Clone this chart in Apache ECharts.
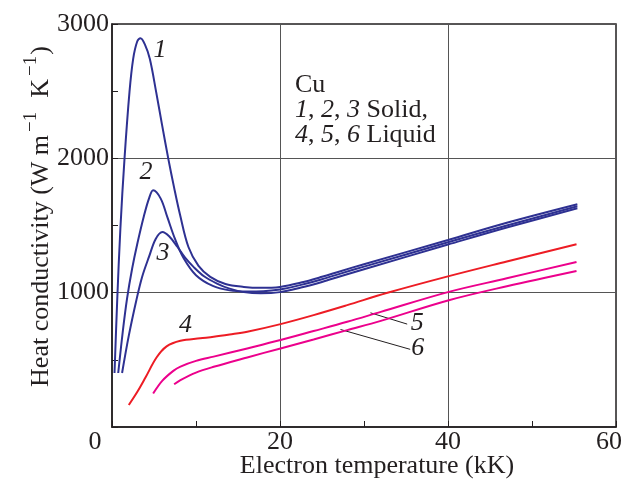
<!DOCTYPE html>
<html>
<head>
<meta charset="utf-8">
<script src="https://cdn.jsdelivr.net/npm/echarts@6/dist/echarts.min.js"></script>
<style>html,body{margin:0;padding:0;background:#fff}#c{width:627px;height:487px}</style>
</head>
<body>
<div id="c"></div>
<script>
// Data (x: electron temperature in kK, y: heat conductivity in W m^-1 K^-1)
const curve1 = [[0.3,402],[0.62,944],[1.0,1480],[1.49,1998],[2.08,2493],[2.52,2741],[3.0,2870],[3.39,2894],[3.9,2850],[4.5,2741],[5.26,2493],[5.97,2245],[6.7,1998],[7.4,1780],[8.1,1580],[9.1,1340],[10.3,1200],[11.7,1118],[13.5,1065],[15.7,1043],[17.7,1036],[20,1043],[22.5,1075],[25,1118],[27.2,1160],[30,1212],[40,1392],[47,1520],[55.4,1658]];
const curve2 = [[0.74,402],[1.3,720],[1.8,960],[2.4,1180],[3.0,1360],[3.8,1570],[4.4,1700],[4.9,1762],[5.8,1700],[6.6,1560],[7.5,1400],[8.5,1260],[10,1130],[12,1050],[14,1017],[16,1009],[18,1011],[20,1024],[22.5,1058],[25,1100],[27.2,1142],[30,1194],[40,1375],[47,1500],[55.4,1643]];
const curve3 = [[1.2,402],[2.0,680],[2.9,944],[3.6,1120],[4.4,1266],[5.2,1400],[6.0,1452],[6.8,1420],[7.8,1340],[8.7,1260],[9.7,1192],[11,1120],[12.5,1068],[14,1030],[15.7,1004],[17.7,995],[20,1004],[22.5,1038],[25,1080],[27.2,1122],[30,1174],[40,1358],[47,1485],[55.4,1628]];
const curve4 = [[2.0,164],[3.0,260],[4.0,370],[5.3,517],[6.5,600],[8.15,642],[10.5,660],[12.1,671],[14,688],[16.1,709],[20.06,766],[24,833],[28,907],[32.8,999],[40.1,1123],[47,1232],[55.3,1361]];
const curve5 = [[4.9,249],[6.0,345],[7.3,418],[8.15,450],[10,492],[12.1,524],[16.1,585],[20.06,647],[24,714],[28,783],[32,857],[40.1,1006],[47,1107],[55.3,1229]];
const curve6 = [[7.4,318],[8.15,349],[10,405],[12.1,448],[16.1,518],[20.06,585],[24,652],[28,721],[32,790],[40.1,944],[47,1048],[55.3,1162]];
const leader5 = [[30.77,850],[35.14,766]];
const leader6 = [[27.2,726],[35.5,578]];
const curveLabels = [[5.7,2806,'1'],[4.05,1896,'2'],[6.07,1291,'3'],[8.75,758,'4'],[36.33,771,'5'],[36.4,585,'6']];
const xTickValues = [0,20,40,60];
const yTickValues = [1000,2000,3000];

const FONT = '"Liberation Serif","Times New Roman",serif';
const chart = echarts.init(document.getElementById('c'), null, {renderer:'canvas'});
const line = (data, color) => ({type:'line', data, smooth:0.35, showSymbol:false, symbol:'none', silent:true,
  lineStyle:{color, width:2}, z:3});
const leader = (data) => ({type:'line', data, showSymbol:false, symbol:'none', silent:true, lineStyle:{color:'#231f20', width:1}, z:2});

chart.setOption({
  animation:false,
  grid:{left:112, right:11, top:24, bottom:60, show:true, borderColor:'#231f20', borderWidth:1.5,
    backgroundColor:'transparent', containLabel:false, outerBoundsMode:'none'},
  xAxis:{type:'value', min:0, max:60, interval:20,
    name:'Electron temperature (kK)', nameLocation:'middle', nameGap:26, nameMoveOverlap:false,
    nameTextStyle:{fontFamily:FONT, fontSize:26, color:'#231f20', padding:[0,0,0,26], verticalAlign:'top'},
    axisLine:{show:true, lineStyle:{color:'#231f20', width:1.5}},
    axisTick:{show:true, inside:true, length:6, lineStyle:{color:'#231f20'}},
    minorTick:{show:true, splitNumber:2, length:6, lineStyle:{color:'#231f20', width:1}},
    splitLine:{show:true, lineStyle:{color:'#555', width:1}},
    axisLabel:{fontFamily:FONT, fontSize:26, color:'#231f20', margin:2,
      formatter:v => xTickValues.includes(v) ? (v===0 ? '{z|0}' : (v===60 ? '{r|60}' : String(v))) : '',
      rich:{z:{fontFamily:FONT, fontSize:26, color:'#231f20', padding:[0,34,0,0]},
            r:{fontFamily:FONT, fontSize:26, color:'#231f20', padding:[0,14,0,0]}}}
  },
  yAxis:{type:'value', min:0, max:3000, interval:1000,
    name:'{m|Heat conductivity (W m}{s|−1}{m|  K}{s|−1}{m|)}', nameLocation:'middle', nameGap:58, nameMoveOverlap:false,
    nameTextStyle:{fontFamily:FONT, fontSize:26, color:'#231f20', padding:[0,0,0,18],
      rich:{m:{fontFamily:FONT, fontSize:26, color:'#231f20', lineHeight:32, verticalAlign:'bottom'},
            s:{fontFamily:FONT, fontSize:19, color:'#231f20', lineHeight:32, verticalAlign:'top', padding:[0,1,0,3]}}},
    axisLine:{show:true, lineStyle:{color:'#231f20', width:1.5}},
    axisTick:{show:true, inside:true, length:6, lineStyle:{color:'#231f20'}},
    minorTick:{show:true, splitNumber:2, length:6, lineStyle:{color:'#231f20', width:1}},
    splitLine:{show:true, lineStyle:{color:'#555', width:1}},
    axisLabel:{fontFamily:FONT, fontSize:26, color:'#231f20', margin:3,
      formatter:v => yTickValues.includes(v) ? String(v) : ''}
  },
  series:[
    line(curve1,'#2e3192'), line(curve2,'#2e3192'), line(curve3,'#2e3192'),
    line(curve4,'#ed1c24'), line(curve5,'#ec008c'), line(curve6,'#ec008c'),
    leader(leader5), leader(leader6),
    {type:'scatter', silent:true, symbolSize:0, z:5, itemStyle:{opacity:1},
      data:curveLabels.map(d => ({value:[d[0],d[1]], label:{formatter:d[2]}})),
      label:{show:true, position:'inside', fontFamily:FONT, fontStyle:'italic', fontSize:26, color:'#231f20', opacity:1}}
  ],
  graphic:[{type:'text', left:295, top:72, silent:true,
    style:{text:'{n|Cu}\n{i|1}{n|, }{i|2}{n|, }{i|3}{n| Solid,}\n{i|4}{n|, }{i|5}{n|, }{i|6}{n| Liquid}',
      rich:{n:{fontFamily:FONT, fontSize:26, fill:'#231f20', lineHeight:25},
            i:{fontFamily:FONT, fontSize:26, fontStyle:'italic', fill:'#231f20', lineHeight:25}}}}]
});
</script>
</body>
</html>
